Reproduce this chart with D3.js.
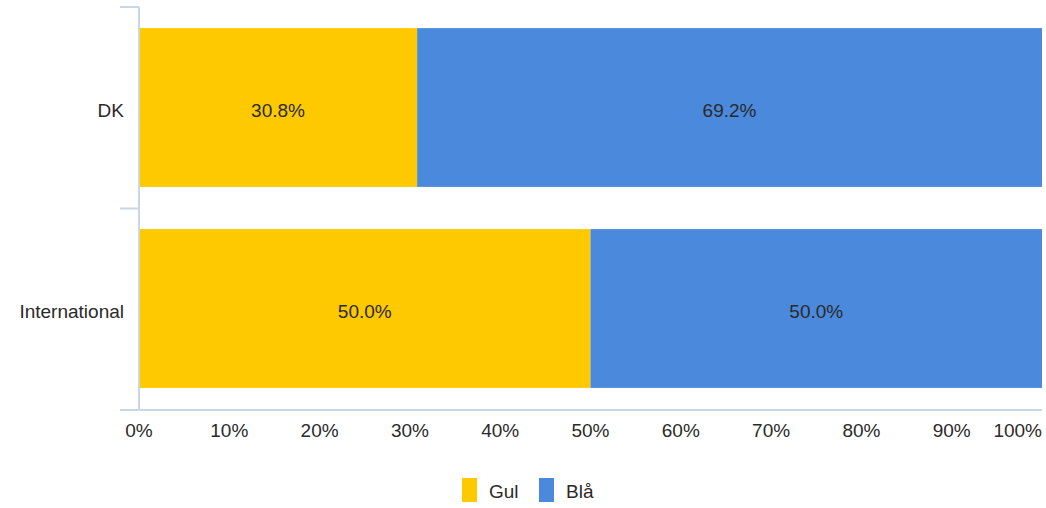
<!DOCTYPE html>
<html><head><meta charset="utf-8">
<script src="https://cdn.jsdelivr.net/npm/d3@7"></script>
<style>body{margin:0;background:#fff;}svg{display:block;font-family:"Liberation Sans",Arial,sans-serif;}</style>
</head><body>
<svg id="c" width="1046" height="508"></svg>
<script>
const categories = ["DK", "International"];
const seriesNames = ["Gul", "Blå"];
const gul = [30.8, 50.0];
const bla = [69.2, 50.0];
const xTicks = [0,10,20,30,40,50,60,70,80,90,100];
const colors = ["#FFC900", "#4A89DC"];

(function(){
const svg = d3.select("#c");
const mLeft = 139, mRight = 1042, mTop = 7, mBottom = 409;
const x = d3.scaleLinear().domain([0,100]).range([mLeft,mRight]);
const y = d3.scaleBand().domain(categories).range([mTop,mBottom]).paddingInner(0.21).paddingOuter(0.105);
const axisColor = "#c8d7e6";
const txt = "#2a2a2a";
const fs = 19;

const series = [gul, bla];
categories.forEach((c,i)=>{
  let acc = 0;
  series.forEach((s,k)=>{
    const v = s[i];
    svg.append("rect").attr("x", x(acc)).attr("y", y(c)).attr("width", x(acc+v)-x(acc)).attr("height", y.bandwidth()).attr("fill", colors[k]);
    svg.append("text").attr("x", (x(acc)+x(acc+v))/2).attr("y", y(c)+y.bandwidth()/2 + 9.5)
      .attr("text-anchor","middle").attr("font-size",fs).attr("fill",txt).text(v.toFixed(1)+"%");
    acc += v;
  });
});

svg.append("line").attr("x1",mLeft).attr("x2",mLeft).attr("y1",mTop).attr("y2",mBottom+1).attr("stroke",axisColor).attr("stroke-width",2);
const yb = [mTop, (mTop+mBottom)/2 + 0.5];
yb.forEach(t=>svg.append("line").attr("x1",120).attr("x2",mLeft).attr("y1",t).attr("y2",t).attr("stroke",axisColor).attr("stroke-width",2));
categories.forEach(c=>{
  svg.append("text").attr("x",124).attr("y",y(c)+y.bandwidth()/2 + 9.5).attr("text-anchor","end")
    .attr("font-size",fs).attr("fill",txt).text(c);
});
svg.append("line").attr("x1",120).attr("x2",mRight).attr("y1",mBottom+1).attr("y2",mBottom+1).attr("stroke",axisColor).attr("stroke-width",2);
xTicks.forEach((t,i)=>{
  const last = i===xTicks.length-1;
  svg.append("text").attr("x", last ? mRight : x(t)).attr("y",437).attr("text-anchor", last ? "end" : "middle")
    .attr("font-size",fs).attr("fill",txt).text(t+"%");
});

const lx = [462, 539];
seriesNames.forEach((n,k)=>{
  svg.append("rect").attr("x",lx[k]).attr("y",478).attr("width",15).attr("height",24).attr("fill",colors[k]);
  svg.append("text").attr("x",lx[k]+27).attr("y",498).attr("font-size",fs).attr("fill",txt).text(n);
});
})();
</script>
</body></html>
